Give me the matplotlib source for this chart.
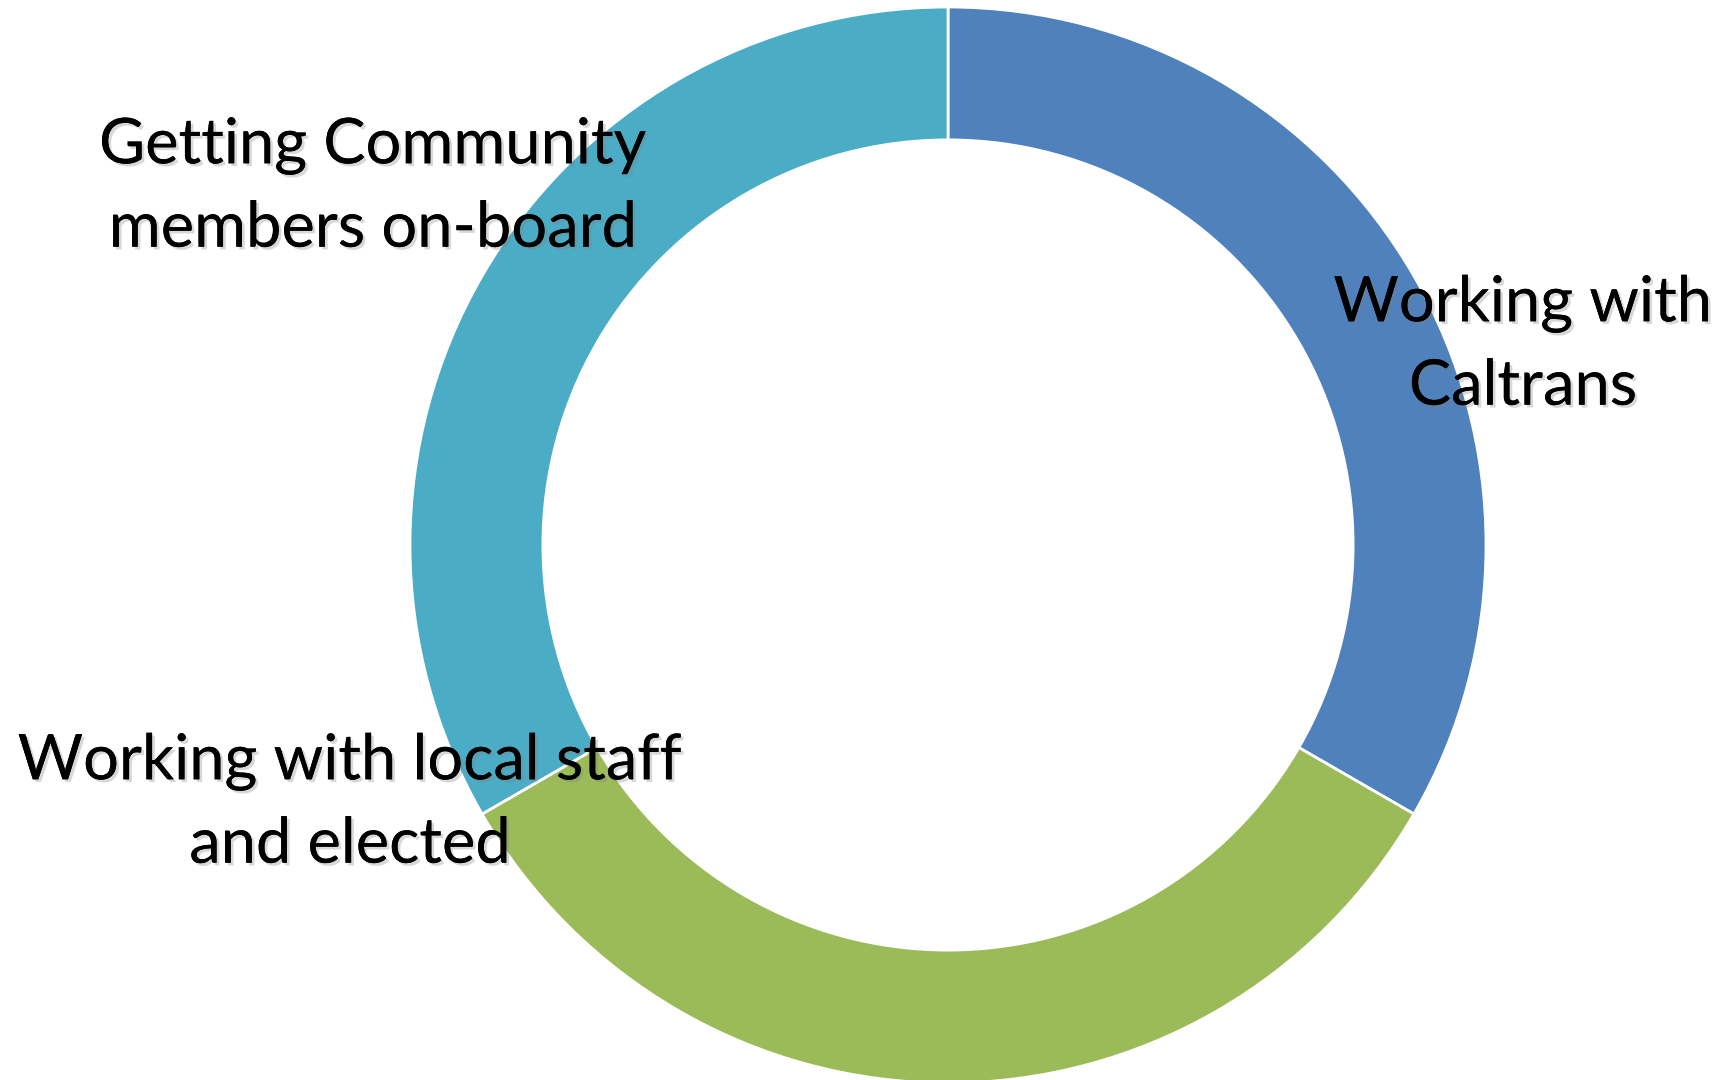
import matplotlib
matplotlib.use("Agg")
import matplotlib.pyplot as plt
import matplotlib.patheffects as pe

# datos
categorias = ["Working with\nCaltrans",
              "Working with local staff\nand elected",
              "Getting Community\nmembers on-board"]
valores = [1, 1, 1]
colores = ["#4F81BD", "#9BBB59", "#4BACC6"]
# posiciones de las etiquetas (px, desde arriba-izquierda)
pos_etiquetas = [(1523, 345), (350, 803), (373, 187)]

W, H = 1721, 1080
cx, cy, R = 948, 545, 538

fig = plt.figure(figsize=(W / 100, H / 100), dpi=100)
ax = fig.add_axes([0, 0, 1, 1])

ax.pie(valores, colors=colores, startangle=90, counterclock=False,
       radius=1, wedgeprops=dict(width=0.247, edgecolor="white", linewidth=2))

ax.set_xlim(-cx / R, (W - cx) / R)
ax.set_ylim(-(H - cy) / R, cy / R)
ax.set_aspect("auto")
ax.axis("off")

sombra = [pe.withSimplePatchShadow(offset=(2, -2), shadow_rgbFace="gray", alpha=0.3),
          pe.Normal()]
for texto, (px, py) in zip(categorias, pos_etiquetas):
    fig.text(px / W, 1 - py / H, texto, ha="center", va="center",
             multialignment="center", fontsize=45.5, family="Lato",
             linespacing=1.53, path_effects=sombra)

fig.savefig("out.png", dpi=100, facecolor="white")
